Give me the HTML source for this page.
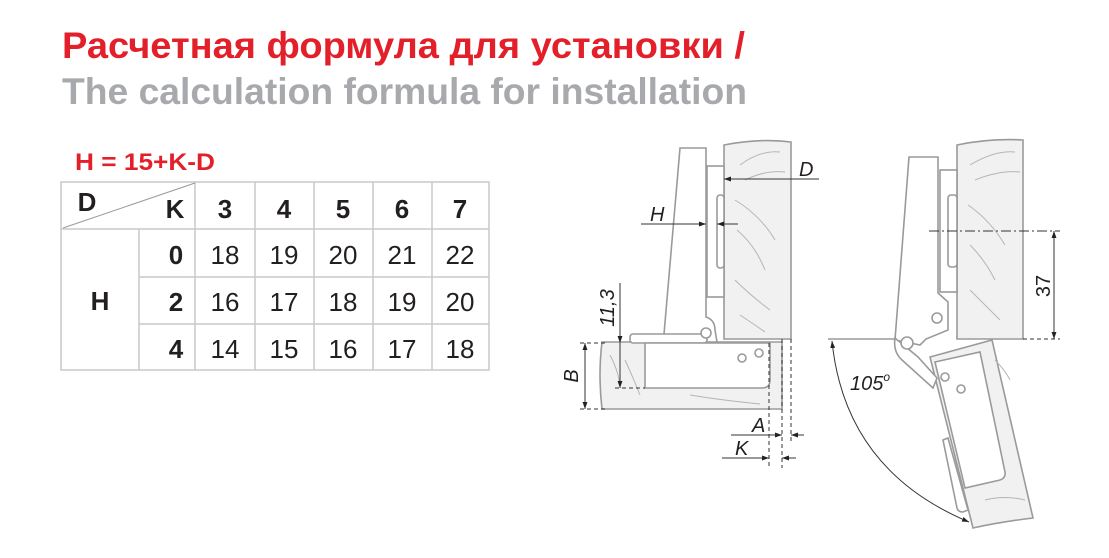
<!DOCTYPE html>
<html><head><meta charset="utf-8"><style>
html,body{margin:0;padding:0;background:#fff;width:1109px;height:558px;overflow:hidden}
svg{display:block}
.t{font-family:"Liberation Sans",sans-serif}
</style></head><body>
<svg width="1109" height="558" viewBox="0 0 1109 558" xmlns="http://www.w3.org/2000/svg">
<defs>
<marker id="ar" viewBox="0 0 10 10" refX="10" refY="5" markerWidth="7" markerHeight="7" orient="auto-start-reverse" markerUnits="userSpaceOnUse"><path d="M0,1.5 L10,5 L0,8.5z" fill="#222"/></marker>
</defs>
<!-- Title -->
<text class="t" x="62" y="58" font-size="37" font-weight="bold" fill="#e3202a" textLength="683" lengthAdjust="spacingAndGlyphs">Расчетная формула для установки /</text>
<text class="t" x="62" y="104" font-size="37" font-weight="bold" fill="#a7a9ac" textLength="685" lengthAdjust="spacingAndGlyphs">The calculation formula for installation</text>
<text class="t" x="75" y="170" font-size="24" font-weight="bold" fill="#e3202a" textLength="140" lengthAdjust="spacingAndGlyphs">H = 15+K-D</text>

<!-- Table -->
<g stroke="#c8c8c8" stroke-width="1.5" fill="none">
<rect x="61" y="182" width="428" height="188"/>
<line x1="61" y1="229" x2="489" y2="229"/>
<line x1="139" y1="277" x2="489" y2="277"/>
<line x1="139" y1="324" x2="489" y2="324"/>
<line x1="139" y1="229" x2="139" y2="370"/>
<line x1="195" y1="182" x2="195" y2="370"/>
<line x1="255" y1="182" x2="255" y2="370"/>
<line x1="314" y1="182" x2="314" y2="370"/>
<line x1="373" y1="182" x2="373" y2="370"/>
<line x1="432" y1="182" x2="432" y2="370"/>
<line x1="63" y1="228" x2="195" y2="183" stroke="#999" stroke-width="1"/>
</g>
<g class="t" font-size="26" fill="#231f20" text-anchor="middle">
<text x="87" y="211" font-weight="bold">D</text>
<text x="175" y="218" font-weight="bold">K</text>
<text x="225" y="218" font-weight="bold">3</text>
<text x="284" y="218" font-weight="bold">4</text>
<text x="343" y="218" font-weight="bold">5</text>
<text x="402" y="218" font-weight="bold">6</text>
<text x="460" y="218" font-weight="bold">7</text>
<text x="100" y="310" font-weight="bold">H</text>
<text x="176" y="264" font-weight="bold">0</text>
<text x="176" y="311" font-weight="bold">2</text>
<text x="176" y="358" font-weight="bold">4</text>
<text x="225" y="264">18</text><text x="284" y="264">19</text><text x="343" y="264">20</text><text x="402" y="264">21</text><text x="460" y="264">22</text>
<text x="225" y="311">16</text><text x="284" y="311">17</text><text x="343" y="311">18</text><text x="402" y="311">19</text><text x="460" y="311">20</text>
<text x="225" y="358">14</text><text x="284" y="358">15</text><text x="343" y="358">16</text><text x="402" y="358">17</text><text x="460" y="358">18</text>
</g>

<!-- Diagram 1 -->
<g stroke="#9a9a9a" stroke-width="1.6" fill="#f1f1f2">
<path d="M724,145 Q760,138 791,142 L791,339 L724,339 Z"/>
<path d="M602,342 L782,342 L782,409 L602,409 Q598,375 602,342 Z"/>
<path d="M680,148 L706,148 L706,317 Q715,320 715,330 L717,342 L664,342 L664,334 Z" fill="#fff"/>
<rect x="707" y="166" width="17" height="131" fill="#fff"/>
<rect x="717" y="195" width="7" height="73" rx="3" fill="#fff"/>
<rect x="630" y="334" width="77" height="9" rx="3" fill="#fff"/>
<circle cx="706" cy="333" r="5" fill="#fff"/>
<path d="M645,343 L770,343 L770,380 Q770,388 762,388 L645,388 Z" fill="#fff"/>
<circle cx="759" cy="353" r="4" fill="#fff"/>
<circle cx="742" cy="358" r="4" fill="#fff"/>
</g>
<g stroke="#b5b5b5" stroke-width="1" fill="none">
<path d="M740,165 Q760,150 780,152"/><path d="M735,200 Q760,215 775,240"/><path d="M737,230 Q755,245 765,270"/>
<path d="M735,280 Q750,295 770,310"/><path d="M745,180 Q765,170 785,172"/><path d="M740,315 Q755,325 765,332"/>
<path d="M610,355 Q618,370 620,385"/><path d="M625,360 Q632,375 640,395"/><path d="M690,395 Q720,400 760,404"/>
</g>
<g stroke="#333" stroke-width="1" fill="none">
<line x1="769" y1="343" x2="769" y2="468" stroke-dasharray="4,3"/>
<line x1="782" y1="339" x2="782" y2="468" stroke-dasharray="4,3"/>
<line x1="791" y1="339" x2="791" y2="442" stroke-dasharray="4,3"/>
<line x1="580" y1="343" x2="605" y2="343" stroke-dasharray="4,3"/>
<line x1="580" y1="409" x2="605" y2="409" stroke-dasharray="4,3"/>
<line x1="615" y1="388" x2="645" y2="388" stroke-dasharray="4,3"/>
<line x1="782" y1="179" x2="724" y2="179" marker-end="url(#ar)"/>
<line x1="782" y1="179" x2="819" y2="179"/>
<line x1="641" y1="224" x2="706" y2="224" marker-end="url(#ar)"/>
<line x1="738" y1="224" x2="717" y2="224" marker-end="url(#ar)"/>
<line x1="620" y1="283" x2="620" y2="343" marker-end="url(#ar)"/>
<line x1="620" y1="343" x2="620" y2="388" marker-end="url(#ar)"/>
<line x1="585" y1="343" x2="585" y2="409" marker-start="url(#ar)" marker-end="url(#ar)"/>
<line x1="731" y1="435" x2="782" y2="435" marker-end="url(#ar)"/>
<line x1="804" y1="435" x2="791" y2="435" marker-end="url(#ar)"/>
<line x1="722" y1="458" x2="769" y2="458" marker-end="url(#ar)"/>
<line x1="796" y1="458" x2="782" y2="458" marker-end="url(#ar)"/>
</g>
<g class="t" font-size="20" font-style="italic" fill="#231f20">
<text x="799" y="176">D</text>
<text x="650" y="221">H</text>
<text x="752" y="432">A</text>
<text x="735" y="455">K</text>
<text transform="translate(614,308) rotate(-90)" text-anchor="middle">11,3</text>
<text transform="translate(578,376) rotate(-90)" text-anchor="middle">B</text>
<text x="850" y="390">105<tspan font-size="12" dy="-9">o</tspan></text>
</g>

<!-- Diagram 2 -->
<g stroke="#9a9a9a" stroke-width="1.6" fill="#f1f1f2">
<path d="M957,145 Q990,138 1023,140 L1023,339 L957,339 Z"/>
<path d="M930,357 L992,340 L1033,518 Q1000,522 973,528 Z"/>
<path d="M935,362 L980,352 L1005,472 Q1006,478 1000,480 L965,488 Z" fill="#fff"/>
<path d="M943,440 L948,438 L968,510 L963,512 Q958,512 957,508 Z" fill="#fff"/>
<path d="M909,157 L938,157 L938,293 L948,302 L948,330 L926,339 L920,345 L895,340 Z" fill="#fff"/>
<rect x="940" y="170" width="17" height="122" fill="#fff"/>
<rect x="948" y="195" width="9" height="72" rx="3" fill="#fff"/>
<path d="M895,338 Q893,352 902,360 L933,388 L937,378 L918,357 Z" fill="#fff"/>
<circle cx="937" cy="318" r="5" fill="#fff"/>
<circle cx="907" cy="343" r="6" fill="#fff"/>
<circle cx="945" cy="377" r="4" fill="#fff"/>
<circle cx="961" cy="389" r="4" fill="#fff"/>
</g>
<g stroke="#b5b5b5" stroke-width="1" fill="none">
<path d="M970,165 Q995,150 1015,152"/><path d="M968,205 Q990,220 1005,245"/><path d="M970,245 Q985,260 995,280"/>
<path d="M970,290 Q985,305 1000,320"/><path d="M975,180 Q1000,170 1020,172"/>
<path d="M985,500 Q1005,495 1025,500"/><path d="M995,360 Q1005,370 1010,380"/>
</g>
<g stroke="#333" stroke-width="1" fill="none">
<line x1="828" y1="339" x2="895" y2="339" stroke="#9a9a9a" stroke-width="1.6"/>
<line x1="1023" y1="339" x2="1060" y2="339" stroke-dasharray="4,3"/>
<line x1="929" y1="231" x2="1060" y2="231" stroke-dasharray="10,3,2,3"/>
<line x1="1054" y1="231" x2="1054" y2="339" marker-start="url(#ar)" marker-end="url(#ar)"/>
<path d="M832,341 Q845,470 969,522" marker-start="url(#ar)" marker-end="url(#ar)"/>
</g>
<text class="t" transform="translate(1050,286) rotate(-90)" text-anchor="middle" font-size="20" fill="#231f20">37</text>
</svg>
</body></html>
